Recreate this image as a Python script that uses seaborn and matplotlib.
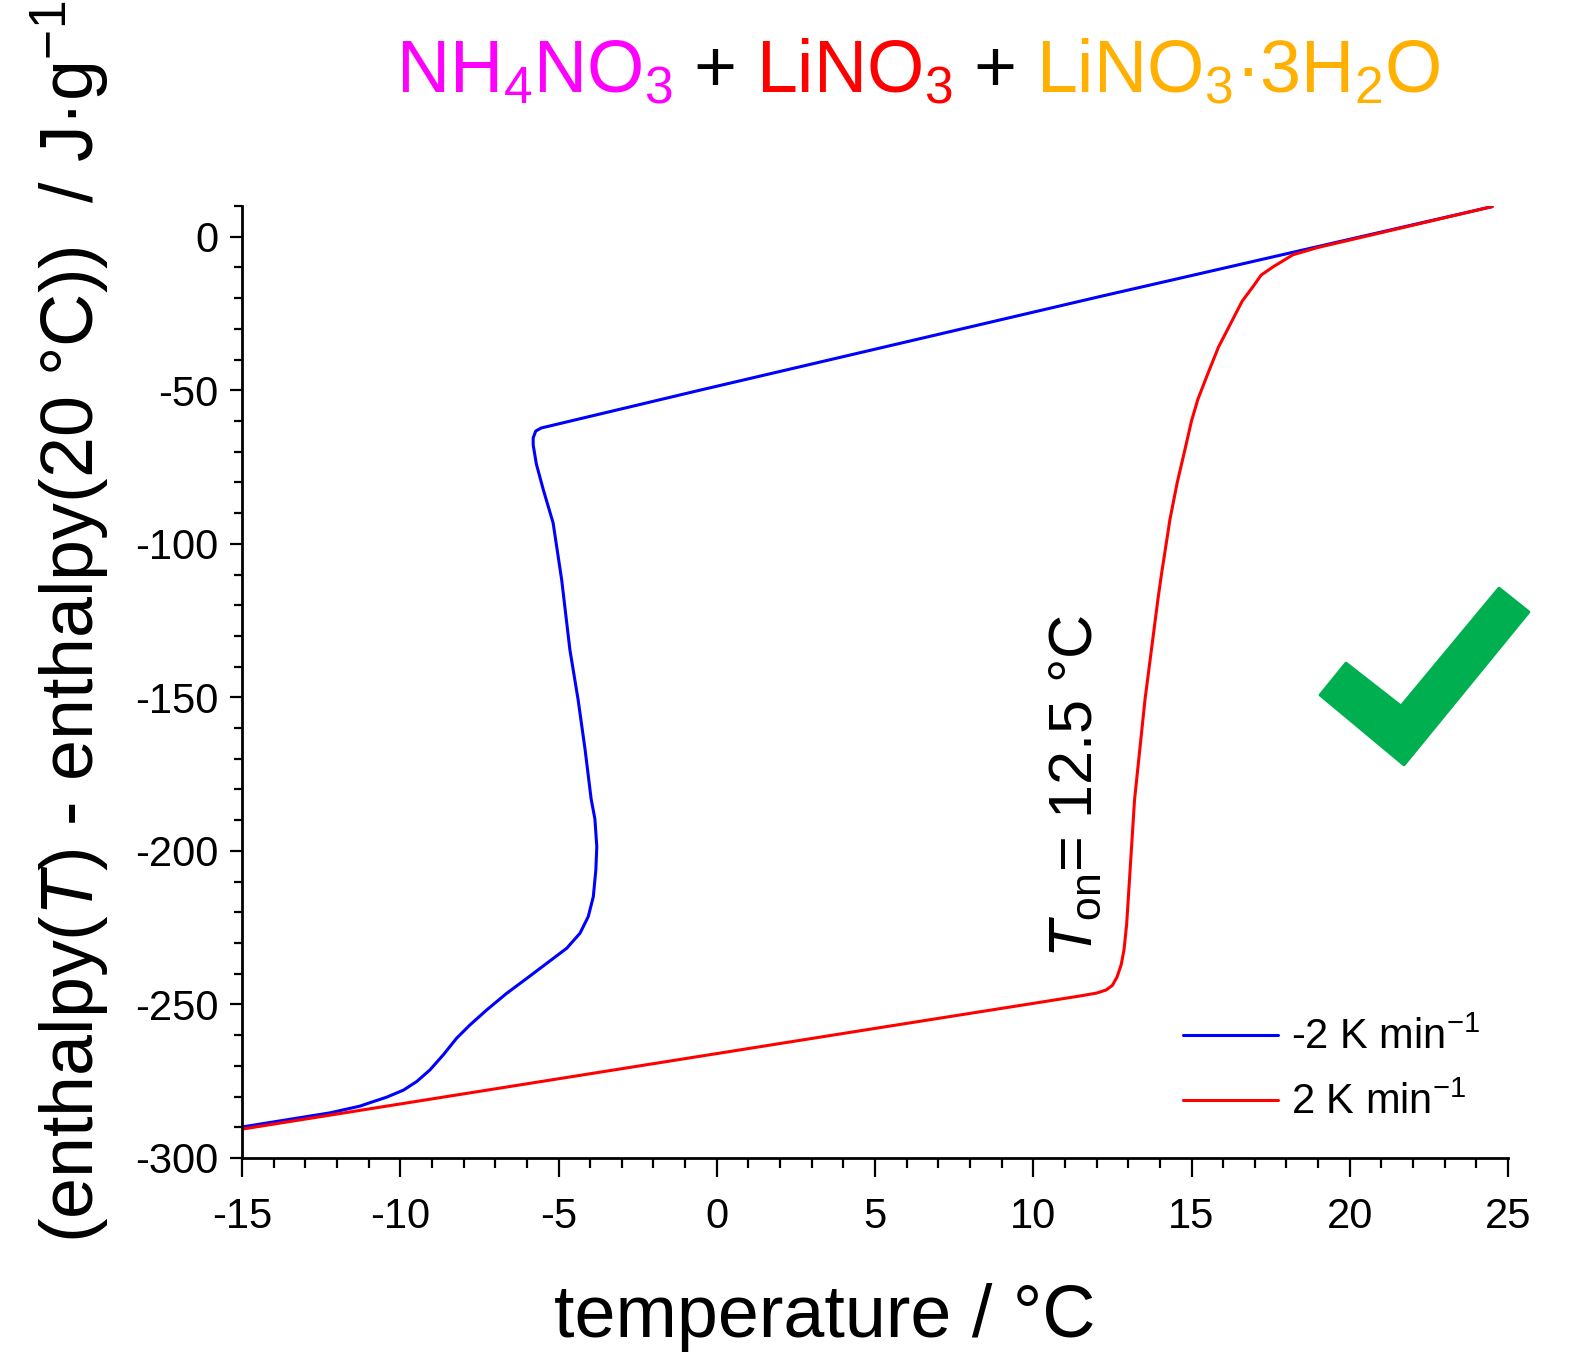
import numpy as np
import pandas as pd
import matplotlib
matplotlib.use('Agg')
import matplotlib.pyplot as plt
from matplotlib.patches import Polygon
from matplotlib.ticker import MultipleLocator
import seaborn as sns

# cooling run (-2 K/min) in path order
blue_T = [24.5, 12.1, -0.5, -5.55, -5.72, -5.8, -5.8, -5.7, -5.48, -5.17, -4.9, -4.64, -4.38,
          -4.16, -3.97, -3.85, -3.79, -3.82, -3.9, -4.06, -4.32, -4.74, -5.37, -6.0, -6.64,
          -7.27, -7.8, -8.22, -8.64, -9.06, -9.48, -9.9, -10.43, -10.96, -11.27, -12.22, -15.0]
blue_H = [9.8, -19.5, -49.9, -62.3, -63.3, -65.5, -67.8, -74.0, -82.4, -93.2, -111.7, -134.5, -150.8,
          -167.0, -183.0, -189.6, -198.6, -206.2, -214.9, -221.4, -226.8, -231.7, -236.6, -241.5, -246.4,
          -251.8, -256.7, -261.0, -266.4, -271.3, -275.1, -277.9, -280.2, -282.0, -283.1, -285.3, -289.9]

# heating run (2 K/min)
red_T = [-15.0, -5.0, 5.0, 11.5, 12.0, 12.3, 12.5, 12.65, 12.78, 12.87, 12.95, 13.0, 13.2,
         13.53, 13.94, 14.05, 14.32, 14.55, 14.8, 15.0, 15.2, 15.5, 15.85, 16.3, 16.6, 16.94,
         17.2, 17.58, 18.2, 18.96, 24.5]
red_H = [-290.6, -274.2, -257.8, -247.2, -246.3, -245.3, -243.8, -241.0, -237.0, -232.0, -224.0,
         -216.0, -183.4, -150.8, -118.0, -110.0, -92.0, -80.0, -69.0, -60.0, -53.0, -45.0, -36.0,
         -27.0, -21.0, -16.3, -12.5, -9.8, -5.9, -3.6, 9.8]

labels = ['-2 K min$^{-1}$', '2 K min$^{-1}$']
colors = ['#0000FF', '#FF0000']

title_parts = ['NH$_4$NO$_3$', '+', 'LiNO$_3$', '+', 'LiNO$_3$·3H$_2$O']
title_colors = ['#FF00FF', 'black', '#FF0000', 'black', '#FFB000']

sns.set_style('ticks')
plt.rcParams['font.family'] = ['Liberation Sans', 'DejaVu Sans']
plt.rcParams['mathtext.fontset'] = 'custom'
plt.rcParams['mathtext.rm'] = 'Liberation Sans'
plt.rcParams['mathtext.it'] = 'Liberation Sans:italic'
plt.rcParams['mathtext.bf'] = 'Liberation Sans:bold'
plt.rcParams['axes.unicode_minus'] = False
for k in ['text.color', 'axes.labelcolor', 'xtick.color', 'ytick.color', 'axes.edgecolor']:
    plt.rcParams[k] = 'black'

W, H = 1571, 1353
fig = plt.figure(figsize=(W / 100, H / 100), dpi=100)
fig.patch.set_facecolor('white')
ax = fig.add_axes([242 / W, 1 - 1158 / H, 1266 / W, 952 / H])

df_blue = pd.DataFrame({'T': blue_T, 'H': blue_H})
df_red = pd.DataFrame({'T': red_T, 'H': red_H})
sns.lineplot(data=df_blue, x='T', y='H', sort=False, estimator=None, color=colors[0],
             lw=2.2, label=labels[0], ax=ax)
sns.lineplot(data=df_red, x='T', y='H', sort=False, estimator=None, color=colors[1],
             lw=2.2, label=labels[1], ax=ax)

ax.set_xlim(-15, 25)
ax.set_ylim(-300, 10)
ax.set_xlabel('')
ax.set_ylabel('')
sns.despine(ax=ax)
for s in ['left', 'bottom']:
    ax.spines[s].set_linewidth(2.0)

ax.xaxis.set_major_locator(MultipleLocator(5))
ax.xaxis.set_minor_locator(MultipleLocator(1))
ax.yaxis.set_major_locator(MultipleLocator(50))
ax.yaxis.set_minor_locator(MultipleLocator(10))
ax.tick_params(axis='x', which='major', length=14, width=1.6, pad=14, labelsize=30)
ax.tick_params(axis='x', which='minor', length=7, width=1.6)
ax.tick_params(axis='y', which='major', length=9, width=1.6, pad=8, labelsize=30)
ax.tick_params(axis='y', which='minor', length=6, width=1.6)

leg = ax.legend(loc='upper left', bbox_to_anchor=(0.743, 0.147), frameon=False,
                fontsize=30, handlelength=2.3, handletextpad=0.3, labelspacing=0.59,
                borderpad=0, borderaxespad=0)
for line in leg.get_lines():
    line.set_linewidth(2.2)

ax.text(11.35, -235, '$T_{\\rm on}$= 12.5 °C', rotation=90, ha='center', va='bottom',
        fontsize=44)

# axis labels
fig.text(825 / W, 1 - 1337 / H, 'temperature / °C', ha='center', va='baseline', fontsize=53)
fig.text(70 / W, 1 - 622 / H, '(enthalpy($T$) - enthalpy(20 °C))  / J·g$^{-1}$',
         rotation=90, ha='center', va='center', fontsize=53)

# coloured title, pieces chained left to right
renderer = fig.canvas.get_renderer()
x_px = 396
for part, col in zip(title_parts, title_colors):
    t = fig.text(x_px / W, 1 - 92 / H, part, color=col, fontsize=53, va='baseline', ha='left')
    bb = t.get_window_extent(renderer)
    x_px += bb.width + 20

# green check mark
check = [(1320, 695), (1346, 663), (1401, 706), (1499, 588), (1529, 612), (1404, 765)]
check = [(px / W, 1 - py / H) for px, py in check]
fig.patches.append(Polygon(check, closed=True, transform=fig.transFigure, facecolor='#00B050',
                           edgecolor='#00B050', lw=2, joinstyle='round'))

fig.savefig('out.png', dpi=100, facecolor='white')
